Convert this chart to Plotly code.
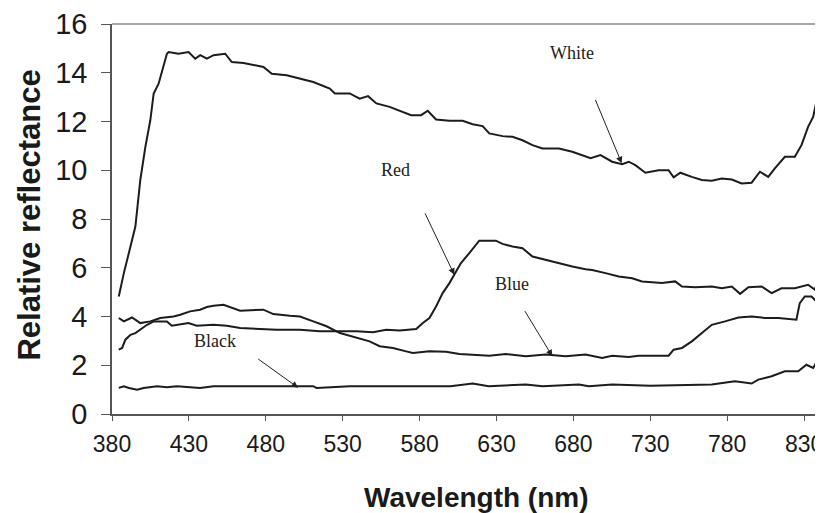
import plotly.graph_objects as go

# ---- data ----
white_nm = [384.4, 387.7, 392.0, 395.2, 398.4, 401.7, 404.9, 407.1, 410.3, 412.5, 415.7, 416.8, 423.3, 429.8,
            434.1, 437.4, 441.7, 446.0, 453.6, 457.9, 465.5, 478.5, 483.9, 493.6, 502.2, 510.9, 521.6, 524.9,
            534.6, 541.0, 546.5, 551.9, 560.5, 567.0, 574.5, 581.0, 585.3, 590.7, 599.4, 608.0, 614.5, 621.0,
            625.3, 634.0, 640.4, 646.9, 653.4, 659.9, 670.6, 679.3, 687.9, 691.2, 697.6, 705.2, 711.7, 716.0,
            720.3, 726.8, 735.4, 741.9, 745.2, 749.5, 757.0, 763.5, 770.0, 776.5, 783.0, 789.4, 795.9, 801.3,
            806.7, 811.0, 817.5, 824.0, 828.3, 832.6, 835.9, 838.0, 839.6, 841.0]
white_val = [4.82, 5.78, 6.87, 7.69, 9.60, 10.96, 12.05, 13.15, 13.55, 14.10, 14.78, 14.85, 14.78, 14.85,
             14.58, 14.72, 14.58, 14.72, 14.78, 14.44, 14.40, 14.24, 13.96, 13.90, 13.76, 13.62, 13.35, 13.15,
             13.15, 12.94, 13.04, 12.74, 12.60, 12.44, 12.26, 12.26, 12.44, 12.08, 12.03, 12.03, 11.89, 11.81,
             11.51, 11.40, 11.37, 11.23, 11.03, 10.89, 10.89, 10.76, 10.55, 10.49, 10.62, 10.35, 10.25, 10.35,
             10.21, 9.90, 10.00, 10.00, 9.71, 9.90, 9.73, 9.60, 9.57, 9.66, 9.62, 9.46, 9.49, 9.94,
             9.73, 10.08, 10.55, 10.55, 11.03, 11.78, 12.19, 12.74, 13.28, 13.42]

red_nm = [384.4, 386.6, 388.7, 392.0, 395.2, 398.4, 402.8, 407.1, 415.7, 418.9, 426.5, 429.7, 435.1, 446.0,
          454.6, 463.3, 476.2, 487.1, 502.2, 515.1, 528.2, 538.9, 549.7, 558.3, 567.0, 577.8, 582.1, 586.4,
          590.7, 595.0, 599.4, 602.6, 606.9, 612.3, 618.8, 629.6, 633.9, 640.4, 646.9, 653.4, 662.0, 670.7,
          679.3, 687.9, 692.2, 700.9, 709.5, 718.2, 724.6, 737.6, 746.2, 750.6, 759.2, 770.0, 776.5, 783.0,
          788.4, 793.8, 802.4, 808.9, 815.3, 824.0, 832.6, 837.0, 839.6, 841.0]
red_val = [2.64, 2.71, 3.05, 3.25, 3.32, 3.46, 3.66, 3.80, 3.80, 3.62, 3.70, 3.73, 3.62, 3.66,
           3.62, 3.53, 3.49, 3.46, 3.46, 3.39, 3.39, 3.39, 3.35, 3.46, 3.43, 3.49, 3.73, 3.94,
           4.41, 4.96, 5.37, 5.71, 6.19, 6.60, 7.11, 7.11, 6.98, 6.87, 6.80, 6.46, 6.32, 6.19,
           6.05, 5.94, 5.91, 5.78, 5.64, 5.57, 5.44, 5.37, 5.44, 5.23, 5.20, 5.23, 5.16, 5.23,
           4.93, 5.20, 5.23, 4.96, 5.16, 5.16, 5.30, 5.10, 5.64, 5.78]

blue_nm = [384.4, 387.7, 393.0, 398.4, 404.9, 411.4, 420.0, 424.4, 430.8, 437.3, 441.7, 446.0, 452.5, 458.9,
           463.3, 478.4, 484.9, 495.7, 502.2, 510.9, 519.5, 528.2, 534.6, 541.0, 547.5, 554.0, 562.7, 571.3,
           575.6, 586.4, 597.2, 605.9, 614.5, 625.3, 636.1, 649.1, 662.0, 675.0, 687.9, 692.2, 698.7, 705.2,
           716.0, 722.5, 741.9, 745.2, 750.6, 757.0, 763.5, 770.0, 778.6, 787.3, 795.9, 804.5, 813.2, 821.8,
           825.0, 827.2, 830.5, 834.8, 838.0, 841.0]
blue_val = [3.94, 3.80, 3.96, 3.73, 3.80, 3.94, 4.00, 4.07, 4.21, 4.28, 4.39, 4.44, 4.48, 4.33,
            4.24, 4.28, 4.10, 4.03, 4.00, 3.80, 3.60, 3.32, 3.21, 3.12, 2.98, 2.78, 2.71, 2.57,
            2.50, 2.57, 2.55, 2.46, 2.44, 2.39, 2.46, 2.37, 2.44, 2.37, 2.44, 2.39, 2.30, 2.39,
            2.34, 2.39, 2.39, 2.64, 2.71, 2.98, 3.32, 3.66, 3.80, 3.96, 4.00, 3.94, 3.94, 3.87,
            3.87, 4.55, 4.82, 4.82, 4.62, 4.62]

black_nm = [384.4, 387.7, 391.0, 396.3, 400.6, 409.3, 415.7, 422.2, 437.3, 446.0, 510.8, 513.0, 534.6, 600.0,
            614.5, 625.0, 649.0, 660.0, 683.6, 690.0, 705.2, 730.0, 770.0, 785.0, 795.9, 800.2, 808.9, 817.5,
            826.2, 831.5, 835.9, 839.1, 841.0]
black_val = [1.07, 1.14, 1.07, 1.00, 1.07, 1.14, 1.10, 1.14, 1.07, 1.14, 1.14, 1.07, 1.14, 1.14,
             1.25, 1.14, 1.21, 1.14, 1.21, 1.14, 1.21, 1.16, 1.21, 1.34, 1.25, 1.41, 1.55, 1.75,
             1.75, 2.02, 1.89, 2.23, 2.30]

x_ticks = [380, 430, 480, 530, 580, 630, 680, 730, 780, 830]
y_ticks = [0, 2, 4, 6, 8, 10, 12, 14, 16]

labels = ["White", "Red", "Blue", "Black"]
label_pos = [(679, 14.79), (564.3, 10.0), (640.0, 5.33), (447.1, 2.98)]
arrow_tail = [(693.9, 12.95), (583.1, 8.29), (647.9, 4.28), (474.1, 2.30)]
arrow_head = [(711.4, 10.29), (602.6, 5.71), (666.3, 2.37), (501.0, 1.08)]

# page is offset by the default 8px body margin
OFF = 8
W, H = 823 - OFF, 513 - OFF
L, R, T = 111.5 - OFF, 0, 24 - OFF
B = H - (414.5 - OFF)

NARROW = "Liberation Sans Narrow, Arial Narrow, Liberation Sans, Arial, sans-serif"
SANS = "Liberation Sans, Arial, sans-serif"

fig = go.Figure()
line_col = "#1c1c1c"
for xs, ys, nm in [(white_nm, white_val, "White"), (red_nm, red_val, "Red"),
                   (blue_nm, blue_val, "Blue"), (black_nm, black_val, "Black")]:
    fig.add_trace(go.Scatter(x=xs, y=ys, mode="lines", name=nm,
                             line=dict(color=line_col, width=2), showlegend=False))

ann = []
for t, (tx, ty) in zip(labels, label_pos):
    ann.append(dict(x=tx, y=ty, xref="x", yref="y", text=t, showarrow=False,
                    font=dict(family="Liberation Serif, Times New Roman, serif", size=18, color="#222")))
for (hx, hy), (tx, ty) in zip(arrow_head, arrow_tail):
    ann.append(dict(x=hx, y=hy, xref="x", yref="y", ax=tx, ay=ty, axref="x", ayref="y",
                    text="", showarrow=True, arrowhead=2, arrowsize=1.3, arrowwidth=1,
                    arrowcolor="#222"))

pw = W - L - R
ph = H - T - B
ann.append(dict(x=-(L - (29 - OFF)) / pw, y=1 - ((215 - OFF) - T) / ph, xref="paper", yref="paper",
                text="<b>Relative reflectance</b>", textangle=-90, showarrow=False,
                xanchor="center", yanchor="middle",
                font=dict(family=SANS, size=31, color="#1a1a1a")))
ann.append(dict(x=((477 - OFF) - L) / pw, y=-((498 - OFF) - (H - B)) / ph, xref="paper", yref="paper",
                text="<b>Wavelength (nm)</b>", showarrow=False, xanchor="center", yanchor="middle",
                font=dict(family=NARROW, size=28, color="#1a1a1a")))

fig.update_layout(
    width=W, height=H,
    margin=dict(l=L, r=R, t=T, b=B, pad=0),
    paper_bgcolor="white", plot_bgcolor="white",
    annotations=ann,
    shapes=[dict(type="line", xref="paper", yref="paper", x0=0, x1=1, y0=1, y1=1,
                 line=dict(color="#8a8a8a", width=1.5))],
)
fig.update_xaxes(range=[380, 841], tickvals=x_ticks, ticktext=[str(v) for v in x_ticks],
                 showgrid=False, zeroline=False, showline=True, linecolor="#555", linewidth=1.5,
                 ticks="outside", ticklen=5, tickcolor="#555", ticklabelstandoff=4,
                 ticklabeloverflow="allow",
                 tickfont=dict(family=NARROW, size=23, color="#1a1a1a"))
fig.update_yaxes(range=[0, 16], tickvals=y_ticks, showgrid=False, zeroline=False,
                 showline=True, linecolor="#555", linewidth=1.5,
                 ticks="outside", ticklen=9, tickcolor="#555", ticklabelstandoff=8,
                 ticklabeloverflow="allow",
                 tickfont=dict(family=NARROW, size=29, color="#1a1a1a"))

fig.write_html("out.html")
